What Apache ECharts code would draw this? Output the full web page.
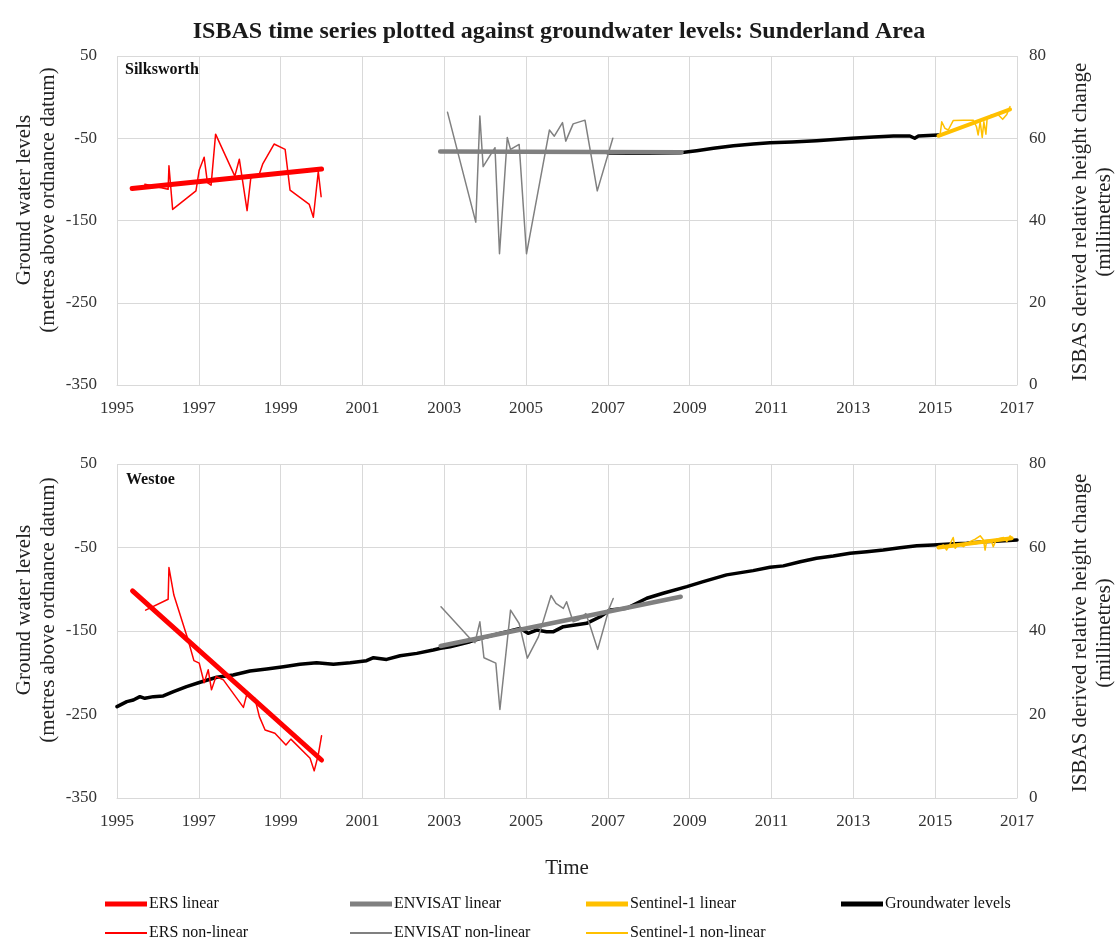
<!DOCTYPE html>
<html>
<head>
<meta charset="utf-8">
<script src="https://cdn.jsdelivr.net/npm/echarts@6/dist/echarts.min.js"></script>
<style>
html,body{margin:0;padding:0;background:#fff;}
#chart{width:1118px;height:942px;}
</style>
</head>
<body>
<div id="chart"></div>
<script>
// ---------- DATA (x = decimal year) ----------
const xTickYears = [1995, 2017];            // x axis range, labels every 2 years
const leftTicks = [-350, 50];               // groundwater axis range (m AOD)
const rightTicks = [0, 80];                 // ISBAS axis range (mm)

// Silksworth
const silkErsLinear = [[1995.37, 47.8], [2000.0, 52.5]];
const silkErsNonLinear = [
  [1995.68, 48.8], [1995.97, 48.2], [1996.25, 47.6], [1996.27, 53.3], [1996.36, 42.7],
  [1996.93, 47.2], [1997.01, 52.3], [1997.13, 55.4], [1997.21, 49.2], [1997.30, 48.6],
  [1997.41, 61.0], [1997.88, 50.8], [1997.99, 54.9], [1998.18, 42.4], [1998.27, 50.3],
  [1998.48, 51.3], [1998.56, 53.7], [1998.84, 58.6], [1999.11, 57.3], [1999.23, 47.4],
  [1999.70, 43.9], [1999.80, 40.8], [1999.92, 51.9], [1999.99, 45.8]
];
const silkEnvLinear = [[2002.90, 56.8], [2008.80, 56.6]];
const silkEnvNonLinear = [
  [2003.08, 66.3], [2003.77, 39.6], [2003.87, 65.4], [2003.95, 53.1], [2004.24, 57.7],
  [2004.35, 31.9], [2004.54, 60.2], [2004.62, 57.3], [2004.83, 58.5], [2005.01, 31.9],
  [2005.57, 62.0], [2005.69, 60.5], [2005.89, 63.8], [2005.97, 59.3], [2006.15, 63.5],
  [2006.44, 64.4], [2006.74, 47.2], [2007.12, 60.0]
];
const silkSenLinear = [[2015.08, 60.6], [2016.83, 67.0]];
const silkSenNonLinear = [
  [2015.12, 60.8], [2015.16, 64.0], [2015.24, 62.4], [2015.32, 62.0], [2015.44, 64.3],
  [2015.69, 64.4], [2015.93, 64.4], [2016.01, 62.8], [2016.05, 60.8], [2016.10, 64.0],
  [2016.15, 60.2], [2016.19, 64.0], [2016.24, 61.0], [2016.27, 64.8], [2016.38, 65.7],
  [2016.54, 65.7], [2016.65, 64.6], [2016.75, 65.8], [2016.83, 67.7]
];
const silkGroundwater = [
  [2007.00, -68.0], [2007.50, -68.2], [2008.00, -68.3], [2008.76, -67.6], [2009.17, -65.1],
  [2009.58, -62.2], [2010.07, -59.1], [2010.55, -57.0], [2010.96, -55.4], [2011.50, -54.5],
  [2012.10, -53.0], [2012.96, -50.0], [2013.50, -48.6], [2013.98, -47.3], [2014.38, -47.3],
  [2014.50, -50.0], [2014.59, -47.3], [2015.08, -46.0]
];

// Westoe
const westErsLinear = [[1995.38, 49.6], [2000.0, 9.1]];
const westErsNonLinear = [
  [1995.70, 45.0], [1996.25, 47.6], [1996.27, 55.2], [1996.39, 48.6], [1996.74, 37.8],
  [1996.88, 32.9], [1997.01, 32.3], [1997.13, 27.6], [1997.23, 30.7], [1997.31, 25.9],
  [1997.42, 29.1], [1997.60, 28.3], [1998.09, 21.7], [1998.17, 24.7], [1998.37, 23.9],
  [1998.48, 19.5], [1998.62, 16.3], [1998.86, 15.5], [1999.13, 12.7], [1999.25, 14.1],
  [1999.72, 9.5], [1999.82, 6.5], [1999.92, 10.3], [2000.0, 14.9]
];
const westEnvLinear = [[2002.91, 36.4], [2008.78, 48.2]];
const westEnvNonLinear = [
  [2002.92, 45.8], [2003.63, 38.2], [2003.75, 37.2], [2003.87, 42.2], [2003.97, 33.6],
  [2004.26, 32.3], [2004.36, 21.2], [2004.62, 45.0], [2004.83, 41.8], [2005.03, 33.5],
  [2005.30, 38.6], [2005.61, 48.5], [2005.73, 46.6], [2005.91, 45.4], [2005.99, 47.0],
  [2006.15, 42.2], [2006.28, 42.6], [2006.46, 44.2], [2006.56, 41.4], [2006.75, 35.6],
  [2007.03, 45.4], [2007.13, 47.8]
];
const westSenLinear = [[2015.08, 60.0], [2016.87, 62.2]];
const westSenNonLinear = [
  [2015.08, 60.2], [2015.20, 60.6], [2015.28, 59.4], [2015.36, 60.8], [2015.44, 62.4],
  [2015.49, 59.8], [2015.57, 60.8], [2015.69, 60.2], [2015.85, 61.4], [2015.98, 62.0],
  [2016.10, 62.8], [2016.18, 61.8], [2016.22, 59.4], [2016.26, 61.6], [2016.38, 61.4],
  [2016.42, 60.2], [2016.50, 62.0], [2016.67, 62.4], [2016.75, 61.4], [2016.83, 62.8],
  [2016.87, 62.4]
];
const westGroundwater = [
  [1995.00, -240.6], [1995.24, -234.6], [1995.40, -232.6], [1995.56, -228.6], [1995.68, -230.6],
  [1995.89, -228.6], [1996.13, -227.8], [1996.38, -222.7], [1996.70, -216.7], [1997.03, -211.4],
  [1997.44, -205.4], [1997.84, -202.7], [1998.25, -197.9], [1998.66, -195.5], [1999.07, -192.8],
  [1999.47, -189.9], [1999.88, -188.0], [2000.29, -189.9], [2000.70, -188.0], [2001.10, -185.6],
  [2001.27, -182.0], [2001.59, -184.0], [2001.92, -179.6], [2002.33, -176.8], [2002.73, -172.8],
  [2002.91, -170.7], [2003.14, -168.8], [2003.63, -162.8], [2004.04, -156.8], [2004.53, -150.8],
  [2004.85, -146.8], [2005.05, -152.8], [2005.26, -148.8], [2005.50, -150.8], [2005.67, -150.8],
  [2005.91, -144.8], [2006.48, -140.8], [2006.81, -132.9], [2007.05, -124.8], [2007.46, -122.8],
  [2007.95, -110.8], [2008.35, -104.8], [2008.93, -96.9], [2009.33, -90.9], [2009.90, -82.8],
  [2010.55, -77.7], [2010.96, -73.7], [2011.29, -72.0], [2011.70, -67.0], [2012.10, -62.9],
  [2012.51, -60.2], [2012.92, -56.9], [2013.33, -55.0], [2013.73, -53.0], [2014.14, -50.2],
  [2014.55, -47.8], [2014.95, -47.0], [2015.36, -45.8], [2015.77, -45.0], [2016.18, -43.0],
  [2016.58, -42.2], [2017.00, -41.0]
];

const seriesNames = ['ERS linear', 'ENVISAT linear', 'Sentinel-1 linear', 'Groundwater levels',
                     'ERS non-linear', 'ENVISAT non-linear', 'Sentinel-1 non-linear'];

// ---------- STYLE ----------
const FONT = 'Liberation Serif';
const RED = '#FF0000', GREY = '#808080', GOLD = '#FFC000', BLACK = '#000000';
const GRIDC = '#d9d9d9';

const chart = echarts.init(document.getElementById('chart'), null, {renderer: 'canvas'});

const grids = [
  {left: 117, top: 56, width: 900, height: 329},
  {left: 117, top: 464, width: 900, height: 334}
];

function xAxis(gi, withName) {
  return {
    type: 'value', gridIndex: gi, min: xTickYears[0], max: xTickYears[1], interval: 2,
    axisLine: {show: true, onZero: false, lineStyle: {color: GRIDC}},
    axisTick: {show: false},
    splitLine: {show: true, lineStyle: {color: GRIDC, width: 1}},
    axisLabel: {fontFamily: FONT, fontSize: 17, color: '#333', margin: 15,
      formatter: v => String(Math.round(v))},
    name: withName ? 'Time' : '', nameLocation: 'middle', nameGap: 60,
    nameTextStyle: {fontFamily: FONT, fontSize: 21, color: '#222'}
  };
}
function yLeft(gi) {
  return {
    type: 'value', gridIndex: gi, position: 'left', min: leftTicks[0], max: leftTicks[1], interval: 100,
    axisLine: {show: false}, axisTick: {show: false},
    splitLine: {show: true, lineStyle: {color: GRIDC, width: 1}},
    axisLabel: {fontFamily: FONT, fontSize: 17, color: '#333', margin: 20}
  };
}
function yRight(gi) {
  return {
    type: 'value', gridIndex: gi, position: 'right', min: rightTicks[0], max: rightTicks[1], interval: 20,
    axisLine: {show: false}, axisTick: {show: false},
    splitLine: {show: false},
    axisLabel: {fontFamily: FONT, fontSize: 17, color: '#333', margin: 12}
  };
}

function line(name, data, xi, yi, color, width, z) {
  return {
    name: name, type: 'line', xAxisIndex: xi, yAxisIndex: yi, data: data,
    showSymbol: false, symbol: 'none', smooth: false, animation: false, z: z,
    lineStyle: {color: color, width: width, cap: 'round', join: 'round'},
    itemStyle: {color: color}
  };
}

const series = [
  // Silksworth (grid 0): y0 = groundwater, y1 = ISBAS
  line('Groundwater levels', silkGroundwater, 0, 0, BLACK, 3.5, 2),
  line('ERS non-linear', silkErsNonLinear, 0, 1, RED, 1.5, 3),
  line('ENVISAT non-linear', silkEnvNonLinear, 0, 1, GREY, 1.5, 3),
  line('Sentinel-1 non-linear', silkSenNonLinear, 0, 1, GOLD, 1.5, 3),
  line('ERS linear', silkErsLinear, 0, 1, RED, 5, 4),
  line('ENVISAT linear', silkEnvLinear, 0, 1, GREY, 4.5, 4),
  line('Sentinel-1 linear', silkSenLinear, 0, 1, GOLD, 4, 4),
  // Westoe (grid 1): y2 = groundwater, y3 = ISBAS
  line('Groundwater levels', westGroundwater, 1, 2, BLACK, 3.5, 2),
  line('ERS non-linear', westErsNonLinear, 1, 3, RED, 1.5, 3),
  line('ENVISAT non-linear', westEnvNonLinear, 1, 3, GREY, 1.5, 3),
  line('Sentinel-1 non-linear', westSenNonLinear, 1, 3, GOLD, 1.5, 3),
  line('ERS linear', westErsLinear, 1, 3, RED, 5, 4),
  line('ENVISAT linear', westEnvLinear, 1, 3, GREY, 4.5, 4),
  line('Sentinel-1 linear', westSenLinear, 1, 3, GOLD, 4, 4)
];

// legend: 2 rows, fixed columns
const legendPos = [
  [105, 896, 5], [350, 896, 5], [586, 896, 5], [841, 896, 5],
  [105, 925, 2], [350, 925, 2], [586, 925, 2]
];
const legends = seriesNames.map((n, i) => ({
  data: [n], left: legendPos[i][0], top: legendPos[i][1], orient: 'horizontal',
  icon: 'rect', itemWidth: 42, itemHeight: legendPos[i][2], itemGap: 0,
  padding: 0, selectedMode: false,
  textStyle: {fontFamily: FONT, fontSize: 16, color: '#111', padding: [0, 0, 0, -3]}
}));

function vText(text, x, y, size) {
  return {type: 'text', x: x, y: y, rotation: Math.PI / 2, silent: true,
    style: {text: text, font: size + 'px "' + FONT + '"', fill: '#222',
      align: 'center', verticalAlign: 'middle'}};
}

const option = {
  backgroundColor: '#ffffff',
  animation: false,
  title: {
    text: 'ISBAS time series plotted against groundwater levels: Sunderland Area',
    left: 'center', top: 15,
    textStyle: {fontFamily: FONT, fontSize: 24, fontWeight: 'bold', color: '#1a1a1a'}
  },
  grid: grids,
  xAxis: [xAxis(0, false), xAxis(1, true)],
  yAxis: [yLeft(0), yRight(0), yLeft(1), yRight(1)],
  legend: legends,
  series: series,
  graphic: [
    {type: 'text', left: 125, top: 62, silent: true,
      style: {text: 'Silksworth', font: 'bold 16px "' + FONT + '"', fill: '#111'}},
    {type: 'text', left: 126, top: 472, silent: true,
      style: {text: 'Westoe', font: 'bold 16px "' + FONT + '"', fill: '#111'}},
    vText('Ground water levels', 24, 200, 21),
    vText('(metres above ordnance datum)', 48, 200, 21),
    vText('Ground water levels', 24, 610, 21),
    vText('(metres above ordnance datum)', 48, 610, 21),
    vText('ISBAS derived relative height change', 1080, 222, 21),
    vText('(millimetres)', 1104, 222, 21),
    vText('ISBAS derived relative height change', 1080, 633, 21),
    vText('(millimetres)', 1104, 633, 21)
  ]
};
chart.setOption(option);
</script>
</body>
</html>
